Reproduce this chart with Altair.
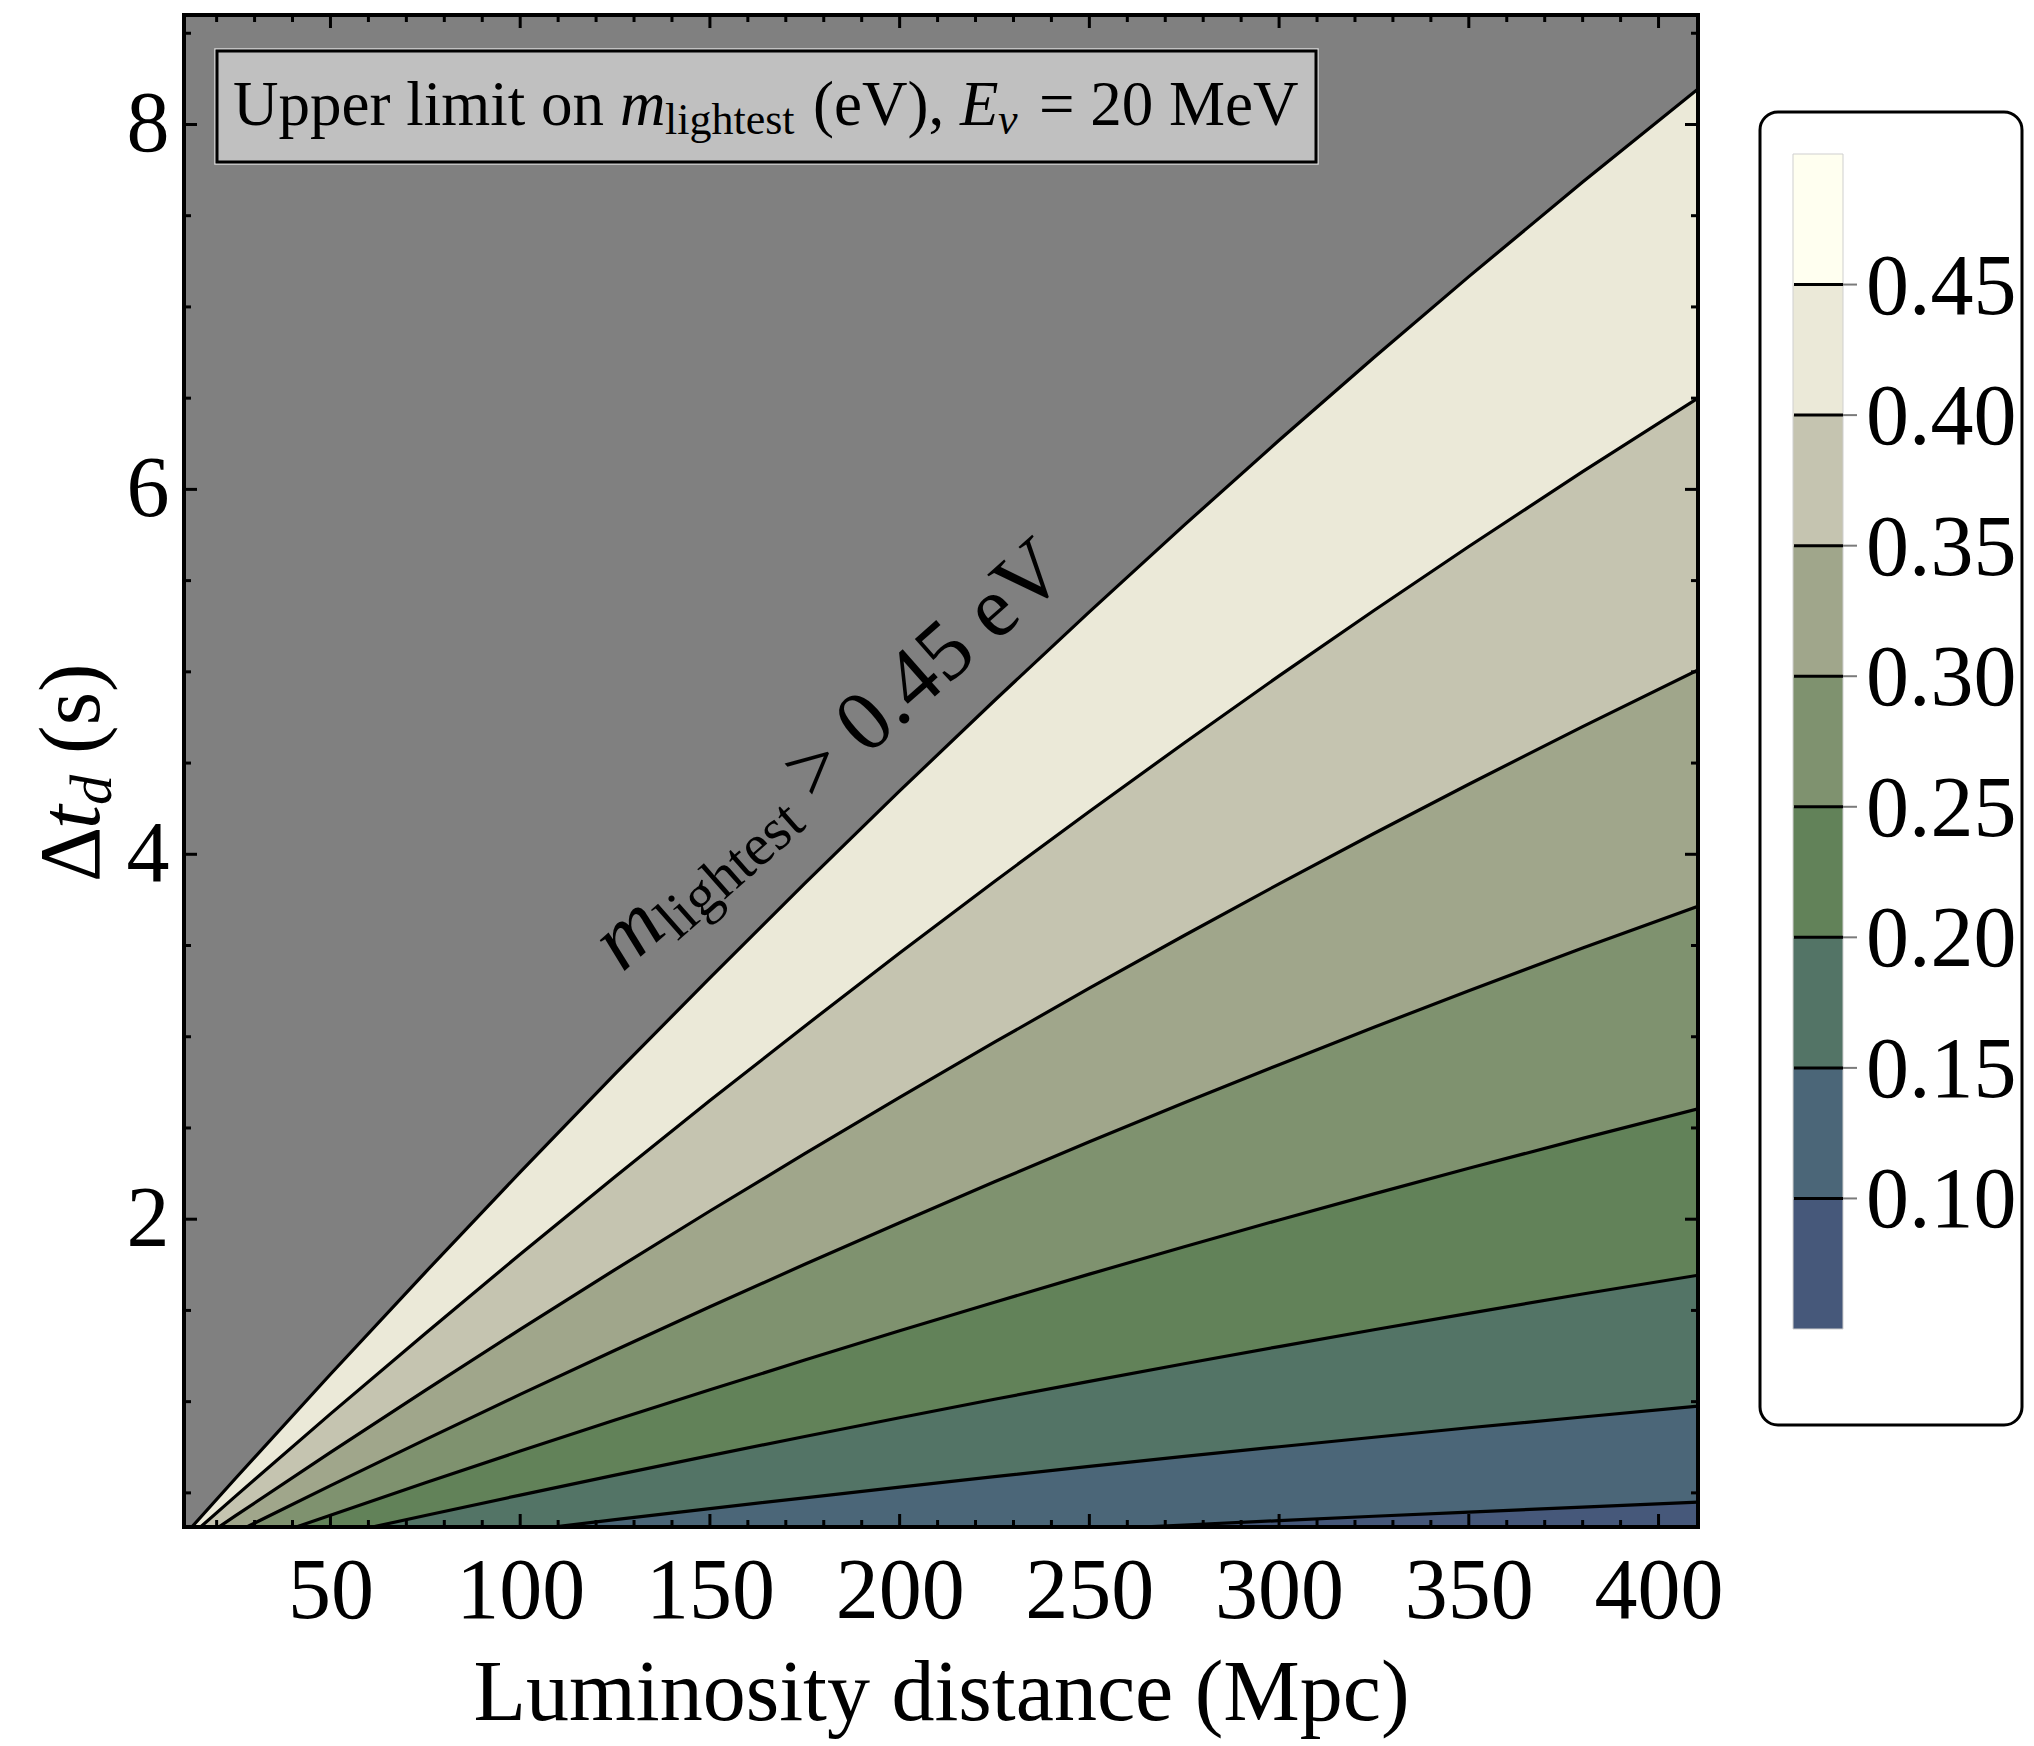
import altair as alt
import pandas as pd

# ---------------- data ----------------
distance = [10, 25, 50, 75, 100, 125, 150, 175, 200, 225, 250, 275, 300, 325, 350, 380, 410.4]
dt_045 = [0.233, 0.580, 1.150, 1.709, 2.258, 2.796, 3.323, 3.840, 4.347, 4.843, 5.329, 5.804, 6.269, 6.723, 7.166, 7.685, 8.195]
dt_040 = [0.208, 0.482, 0.933, 1.374, 1.808, 2.233, 2.650, 3.058, 3.459, 3.851, 4.235, 4.610, 4.978, 5.336, 5.687, 6.097, 6.500]
dt_035 = [0.164, 0.375, 0.722, 1.062, 1.396, 1.724, 2.045, 2.359, 2.668, 2.970, 3.266, 3.555, 3.838, 4.114, 4.384, 4.700, 5.010]
dt_030 = [0.127, 0.283, 0.540, 0.792, 1.040, 1.282, 1.520, 1.753, 1.981, 2.205, 2.424, 2.638, 2.847, 3.052, 3.252, 3.486, 3.715]
dt_025 = [0.089, 0.198, 0.378, 0.555, 0.729, 0.899, 1.065, 1.228, 1.389, 1.545, 1.699, 1.849, 1.996, 2.139, 2.279, 2.443, 2.605]
dt_020 = [0.076, 0.147, 0.263, 0.376, 0.488, 0.597, 0.704, 0.809, 0.912, 1.013, 1.111, 1.208, 1.302, 1.394, 1.484, 1.590, 1.693]
dt_015 = [0.058, 0.098, 0.163, 0.228, 0.291, 0.353, 0.414, 0.473, 0.532, 0.589, 0.645, 0.700, 0.753, 0.805, 0.857, 0.916, 0.975]
dt_010 = [0.032, 0.050, 0.080, 0.109, 0.138, 0.166, 0.194, 0.221, 0.247, 0.273, 0.299, 0.324, 0.348, 0.372, 0.395, 0.422, 0.449]

levels = [0.10, 0.15, 0.20, 0.25, 0.30, 0.35, 0.40, 0.45]
level_labels = ["0.10", "0.15", "0.20", "0.25", "0.30", "0.35", "0.40", "0.45"]
band_edges = [0.05, 0.10, 0.15, 0.20, 0.25, 0.30, 0.35, 0.40, 0.45, 0.50]
band_colors = ["#46587a", "#4b6678", "#537466", "#628259", "#7f926f",
               "#a0a68b", "#c5c4b0", "#ebe9d8", "#fffff0"]

x_major = [50, 100, 150, 200, 250, 300, 350, 400]
x_minor = [20, 30, 40, 60, 70, 80, 90, 110, 120, 130, 140, 160, 170, 180, 190,
           210, 220, 230, 240, 260, 270, 280, 290, 310, 320, 330, 340, 360, 370, 380, 390]
y_major = [2, 4, 6, 8]
y_minor = [0.5, 1, 1.5, 2.5, 3, 3.5, 4.5, 5, 5.5, 6.5, 7, 7.5, 8.5]

# ---------------- layout / style ----------------
W, H = 1514, 1512
FONT = "Liberation Serif"
xsc = alt.Scale(domain=[11.4, 410.4], nice=False, zero=False)
ysc = alt.Scale(domain=[0.313, 8.6], nice=False, zero=False)
cbsc = alt.Scale(domain=[0.05, 0.50], range=[1314, 139], nice=False, zero=False)
one = pd.DataFrame({"k": [0]})

x_axis = alt.Axis(values=x_major, ticks=False, tickSize=0, domain=False, grid=False,
                  labelFont=FONT, labelFontSize=86, labelPadding=22, labelColor="black",
                  labelFlush=False, labelOverlap=False,
                  title="Luminosity distance (Mpc)", titleFont=FONT, titleFontSize=86,
                  titleFontWeight="normal", titleColor="black", titlePadding=17)
y_axis = alt.Axis(values=y_major, ticks=False, tickSize=0, domain=False, grid=False,
                  labelFont=FONT, labelFontSize=86, labelPadding=15, labelColor="black",
                  labelFlush=False, labelOverlap=False, title=None)


def X(field):
    return alt.X(field, scale=xsc, axis=x_axis)


def Y(field, **kw):
    return alt.Y(field, scale=ysc, axis=y_axis, **kw)


contours = [dt_010, dt_015, dt_020, dt_025, dt_030, dt_035, dt_040, dt_045]

area_rows, line_rows = [], []
for i, hi in enumerate(contours):
    lo = [0.0] * len(distance) if i == 0 else contours[i - 1]
    for d, a, b in zip(distance, lo, hi):
        area_rows.append({"D": d, "lo": a, "hi": b, "band": f"b{i}", "col": band_colors[i]})
        line_rows.append({"D": d, "t": b, "level": levels[i]})
df_area = pd.DataFrame(area_rows)
df_line = pd.DataFrame(line_rows)

areas = alt.Chart(df_area).mark_area(clip=True, interpolate="linear").encode(
    x=X("D:Q"),
    y=Y("lo:Q", stack=None),
    y2="hi:Q",
    color=alt.Color("col:N", scale=None),
    detail="band:N",
)
lines = alt.Chart(df_line).mark_line(clip=True, color="black", strokeWidth=3.2).encode(
    x=X("D:Q"), y=Y("t:Q"), detail="level:N",
)


def ptext(s, x, y, size, dx=0, dy=0, italic=False, angle=0, align="left", baseline="alphabetic"):
    return alt.Chart(one).mark_text(
        text=s, font=FONT, fontSize=size, fontStyle="italic" if italic else "normal",
        dx=dx, dy=dy, angle=angle, align=align, baseline=baseline, color="black"
    ).encode(x=alt.value(x), y=alt.value(y))


def dtext(s, d, t, size, dx=0, dy=0, italic=False, angle=0):
    return alt.Chart(pd.DataFrame({"D": [d], "t": [t]})).mark_text(
        text=s, font=FONT, fontSize=size, fontStyle="italic" if italic else "normal",
        dx=dx, dy=dy, angle=angle, align="left", baseline="alphabetic", color="black"
    ).encode(x=X("D:Q"), y=Y("t:Q"))


def vrect(x1, x2, y1, y2, **kw):
    return alt.Chart(one).mark_rect(**kw).encode(
        x=alt.value(x1), x2=alt.value(x2), y=alt.value(y1), y2=alt.value(y2))


# title box
box_outer = vrect(31, 1134, 34, 149, filled=False, stroke="#d8d8d8", strokeWidth=1.5)
box = vrect(33, 1132, 36, 147, fill="#c0c0c0", stroke="black", strokeWidth=3)
TX, TY = 49, 110
title_parts = [
    ptext("Upper limit on", TX, TY, 63),
    ptext("m", TX, TY, 63, dx=387, italic=True),
    ptext("lightest", TX, TY, 44, dx=432, dy=9),
    ptext("(eV),", TX, TY, 63, dx=580),
    ptext("E", TX, TY, 63, dx=727, italic=True),
    ptext("ν", TX, TY, 44, dx=765, dy=9, italic=True),
    ptext("= 20 MeV", TX, TY, 63, dx=806),
]

# rotated annotation along the 0.45 contour
ANG = 318.5
AD, AT = 126.9, 3.35
rot_parts = [
    dtext("m", AD, AT, 86, italic=True, angle=ANG),
    dtext("lightest", AD, AT, 59, dx=62, dy=13, angle=ANG),
    dtext("> 0.45 eV", AD, AT, 86, dx=256, angle=ANG),
]

# y-axis title (rotated)
YX, YY = -85, 867
ytitle_parts = [
    ptext("Δ", YX, YY, 86, angle=270),
    ptext("t", YX, YY, 86, dx=53, italic=True, angle=270),
    ptext("d", YX, YY, 60, dx=77, dy=12, italic=True, angle=270),
    ptext("(s)", YX, YY, 86, dx=128, angle=270),
]


# inward frame ticks on all four sides
def xticks(vals, length):
    df = pd.DataFrame({"D": vals})
    b = alt.Chart(df).mark_rule(color="black", strokeWidth=3).encode(
        x=X("D:Q"), y=alt.value(H), y2=alt.value(H - length))
    t = alt.Chart(df).mark_rule(color="black", strokeWidth=3).encode(
        x=X("D:Q"), y=alt.value(0), y2=alt.value(length))
    return [b, t]


def yticks(vals, length):
    df = pd.DataFrame({"t": vals})
    l = alt.Chart(df).mark_rule(color="black", strokeWidth=3).encode(
        y=Y("t:Q"), x=alt.value(0), x2=alt.value(length))
    r = alt.Chart(df).mark_rule(color="black", strokeWidth=3).encode(
        y=Y("t:Q"), x=alt.value(W), x2=alt.value(W - length))
    return [l, r]


ticks = xticks(x_major, 13) + xticks(x_minor, 7) + yticks(y_major, 13) + yticks(y_minor, 7)
frame = vrect(0, W, 0, H, filled=False, stroke="black", strokeWidth=4)

main = alt.layer(areas, lines, box_outer, box, *title_parts, *rot_parts, *ticks, frame, *ytitle_parts)

# ---------------- colour bar ----------------
cb_rows = [{"lo": band_edges[i], "hi": band_edges[i + 1], "col": band_colors[i]} for i in range(9)]
df_cb = pd.DataFrame(cb_rows)
df_lev = pd.DataFrame({"lev": levels, "lab": level_labels})

cb_frame = vrect(1576, 1838, 97, 1410, fill="white", stroke="black", strokeWidth=3, cornerRadius=18)
cb_bands = alt.Chart(df_cb).mark_rect().encode(
    x=alt.value(1609), x2=alt.value(1659),
    y=alt.Y("lo:Q", scale=cbsc, axis=None), y2="hi:Q",
    color=alt.Color("col:N", scale=None),
)
cb_outline = vrect(1609, 1659, 139, 1314, filled=False, stroke="#cfcfcf", strokeWidth=1)
cb_ticks_in = alt.Chart(df_lev).mark_rule(color="black", strokeWidth=3).encode(
    x=alt.value(1610), x2=alt.value(1659), y=alt.Y("lev:Q", scale=cbsc, axis=None))
cb_ticks_out = alt.Chart(df_lev).mark_rule(color="#7a7a7a", strokeWidth=2).encode(
    x=alt.value(1659), x2=alt.value(1673), y=alt.Y("lev:Q", scale=cbsc, axis=None))
cb_labels = alt.Chart(df_lev).mark_text(
    font=FONT, fontSize=86, align="left", baseline="middle", dy=3, color="black"
).encode(x=alt.value(1682), y=alt.Y("lev:Q", scale=cbsc, axis=None), text="lab:N")

cbar = alt.layer(cb_frame, cb_bands, cb_outline, cb_ticks_in, cb_ticks_out, cb_labels)

chart = alt.layer(main, cbar).resolve_scale(y="independent").properties(
    width=W, height=H,
    autosize=alt.AutoSizeParams(type="none"),
    padding={"left": 176, "top": 7, "right": 328, "bottom": 213},
    background="white",
).configure_view(fill="#808080", stroke=None)

chart.save("out.html", embed_options={"renderer": "svg", "actions": False})
